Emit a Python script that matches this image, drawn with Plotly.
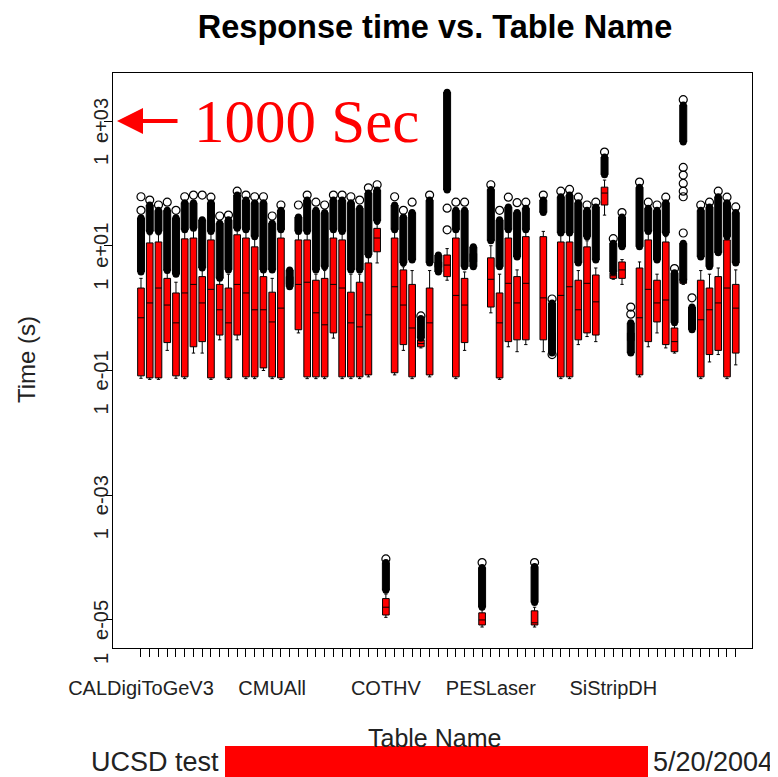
import plotly.graph_objects as go
import math

# ---------------- data (seconds) ----------------
positions = list(range(1, 70))
table_labels = [""] * 69
table_labels[0] = "CALDigiToGeV3"
table_labels[15] = "CMUAll"
table_labels[28] = "COTHV"
table_labels[40] = "PESLaser"
table_labels[54] = "SiStripDH"

q1_s = [0.082, 0.076, 0.076, 0.28, 0.082, 0.079, 0.24, 0.29, 0.076, 0.37,
        0.076, 0.37, 0.079, 0.079, 0.11, 0.079, 0.076, 2.4, 0.45, 0.079,
        0.079, 0.079, 0.40, 0.079, 0.079, 0.079, 0.085, 8.0, 1.2e-5, 0.092,
        0.26, 0.079, 0.24, 0.085, 4.5, 3.2, 0.079, 0.28, 5.5, 8.3e-6,
        1.04, 0.076, 0.29, 0.31, 0.31, 8.3e-6, 0.31, 0.30, 0.079, 0.079,
        0.31, 0.40, 0.37, 45, 3.0, 3.0, 0.30, 0.085, 0.29, 0.60,
        0.26, 0.20, 2.5, 0.55, 0.079, 0.18, 0.21, 0.079, 0.19]
median_s = [0.70, 1.21, 2.1, 1.12, 0.58, 1.75, 2.4, 1.21, 2.0, 0.94,
            0.58, 2.4, 1.75, 0.94, 0.94, 0.60, 1.0, 2.8, 2.4, 2.6,
            0.84, 0.54, 2.4, 2.1, 0.58, 0.50, 0.78, 13.3, 1.6e-5, 2.2,
            1.12, 0.48, 0.27, 0.58, 5.0, 4.9, 1.6, 1.12, 6.5, 1.0e-5,
            2.9, 0.58, 2.5, 1.21, 2.5, 9.0e-6, 1.46, 0.35, 1.6, 2.2,
            0.94, 2.5, 1.26, 70, 3.3, 4.1, 0.35, 0.70, 2.0, 1.21,
            1.35, 0.29, 2.7, 0.7, 0.65, 0.94, 1.21, 2.1, 1.0]
q3_s = [2.1, 11.1, 11.5, 3.0, 1.75, 12.9, 13.3, 3.2, 12.4, 2.4,
        2.1, 15, 13.3, 9.6, 3.2, 1.8, 13.3, 3.2, 12.4, 12.4,
        2.8, 3.0, 13.3, 12.4, 1.8, 2.6, 5.3, 19, 2.2e-5, 13.3,
        4.1, 2.4, 0.31, 2.1, 5.5, 7.1, 13.3, 3.0, 7.5, 1.3e-5,
        6.4, 1.75, 13.3, 3.2, 14, 1.4e-5, 14, 0.40, 11.5, 11.5,
        2.8, 9.6, 3.4, 87, 3.7, 5.5, 0.40, 4.4, 12.4, 2.8,
        11.5, 0.48, 2.9, 0.85, 2.8, 2.1, 3.2, 12.4, 2.4]
whisker_low_s = [0.075, 0.072, 0.072, 0.21, 0.075, 0.074, 0.19, 0.19, 0.072, 0.31,
                 0.072, 0.31, 0.074, 0.074, 0.10, 0.074, 0.072, 2.3, 0.40, 0.074,
                 0.074, 0.074, 0.33, 0.074, 0.074, 0.074, 0.079, 5.3, 1.1e-5, 0.085,
                 0.21, 0.074, 0.23, 0.079, 4.2, 2.8, 0.074, 0.21, 5.2, 7.7e-6,
                 0.84, 0.072, 0.24, 0.20, 0.26, 7.7e-6, 0.20, 0.28, 0.074, 0.074,
                 0.26, 0.35, 0.29, 31, 2.9, 2.4, 0.28, 0.079, 0.24, 0.40,
                 0.23, 0.19, 2.4, 0.5, 0.074, 0.137, 0.18, 0.074, 0.123]
whisker_high_s = [3.0, 15, 15, 3.7, 2.6, 17, 18, 4.1, 16, 2.8,
                  3.5, 18, 17, 13, 4.0, 3.0, 17, 3.5, 16, 16,
                  3.5, 4.0, 17, 16, 3.5, 3.5, 6.5, 22, 2.6e-5, 17,
                  4.6, 4.0, 0.31, 4.0, 6.0, 9.0, 17, 3.8, 8.0, 1.5e-5,
                  10, 3.5, 17, 4.1, 17, 1.6e-5, 17, 0.45, 15, 15,
                  4.0, 12, 4.4, 113, 3.8, 6.0, 0.45, 5.5, 16, 3.5,
                  14, 0.55, 3.0, 0.9, 4.0, 3.5, 4.4, 15, 4.1]

# dense runs of outliers (overlapping circles that print as black bands)
cluster_pos = list(range(1, 70)) + [63]
cluster_low_s = [3.8, 17, 17, 4.0, 3.5, 18, 19, 4.4, 17, 3.0,
                 4.1, 19, 18, 14, 4.1, 4.1, 18, 2.2, 17, 17,
                 4.1, 4.6, 18, 17, 4.1, 4.1, 7.1, 25, 3.0e-5, 18,
                 5.3, 5.9, 0.33, 5.3, 3.8, 78, 18, 4.6, 4.6, 1.6e-5,
                 12, 4.6, 18, 6.6, 18, 1.9e-5, 34, 0.19, 16, 16,
                 5.3, 14, 5.9, 137, 3.8, 9.6, 0.19, 9.6, 17, 5.9,
                 16, 0.58, 2.8, 0.45, 6.6, 4.6, 7.7, 14, 5.3, 460]
cluster_high_s = [28, 45, 37, 37, 28, 49, 49, 26, 49, 23,
                  26, 65, 54, 49, 49, 23, 37, 4.1, 29, 54,
                  37, 34, 54, 54, 49, 40, 70, 78, 8.3e-5, 45,
                  29, 34, 0.68, 54, 7.1, 2900, 37, 37, 9.6, 6.9e-5,
                  80, 26, 42, 34, 40, 7.2e-5, 54, 1.21, 61, 65,
                  49, 37, 42, 265, 11, 29, 0.58, 87, 40, 37,
                  49, 3.7, 11, 1.04, 37, 42, 61, 49, 34, 1800]

# isolated outliers
outlier_pos = [1, 1, 2, 3, 4, 5, 6, 7, 8, 9, 10, 11, 12, 13, 14, 15, 16, 17,
               19, 20, 21, 22, 23, 24, 25, 26, 27, 28, 29, 30, 31, 32, 33, 34,
               36, 36, 37, 38, 40, 41, 42, 43, 44, 45, 46, 47, 48, 48, 49, 50,
               51, 52, 53, 54, 55, 56, 57, 57, 58, 59, 60, 61, 62,
               63, 63, 63, 63, 63, 63, 63, 64, 65, 66, 67, 68, 69]
outlier_s = [61, 37, 54, 45, 50, 37, 61, 65, 65, 60, 30, 31, 75, 65, 61, 61, 30, 45,
             45, 65, 50, 45, 65, 65, 61, 54, 85, 95, 9.5e-5, 61, 37, 50, 0.75, 65,
             18, 40, 50, 50, 8.3e-5, 95, 37, 60, 49, 50, 8.3e-5, 65, 1.4, 0.18, 75, 80,
             60, 45, 50, 318, 13, 34, 0.8, 1.04, 105, 50, 45, 60, 4.3,
             2200, 180, 136, 100, 75, 61, 16, 1.46, 45, 50, 75, 60, 42]

y_tick_vals = [1000, 10, 0.1, 0.001, 1e-5]
y_tick_text = ["e+03", "e+01", "e-01", "e-03", "e-05"]

# ---------------- figure ----------------
fig = go.Figure()

fig.add_trace(go.Box(
    x=positions, q1=q1_s, median=median_s, q3=q3_s,
    lowerfence=whisker_low_s, upperfence=whisker_high_s,
    fillcolor="#ff0000", line=dict(color="black", width=1),
    width=0.76, whiskerwidth=0.5, boxpoints=False, hoverinfo="skip",
    showlegend=False))

fig.add_trace(go.Box(
    x=cluster_pos, q1=cluster_low_s, median=cluster_low_s, q3=cluster_high_s,
    lowerfence=cluster_low_s, upperfence=cluster_high_s,
    fillcolor="black", line=dict(color="black", width=1),
    width=0.8, whiskerwidth=0, boxpoints=False, hoverinfo="skip",
    showlegend=False))

fig.add_trace(go.Scatter(
    x=cluster_pos + cluster_pos, y=cluster_low_s + cluster_high_s,
    mode="markers", marker=dict(symbol="circle", size=7, color="black"),
    hoverinfo="skip", showlegend=False))

fig.add_trace(go.Scatter(
    x=outlier_pos, y=outlier_s, mode="markers",
    marker=dict(symbol="circle-open", size=8, color="black", line=dict(width=1.2)),
    hoverinfo="skip", showlegend=False))

# page body adds an 8px offset; lay everything out in screenshot pixels
OFF = 8
W, H = 778 - OFF, 777 - OFF
L, T = 113 - OFF, 73 - OFF
R = W - (752 - OFF)
B = H - (648 - OFF)
pw, ph = W - L - R, H - T - B

def px_x(p):
    return (p - OFF - L) / pw

def px_y(p):
    return (H - B - (p - OFF)) / ph

FONT = "Liberation Sans, Arial"
annotations = []
for v, t in zip(y_tick_vals, y_tick_text):
    annotations.append(dict(x=px_x(101), y=math.log10(v), xref="paper", yref="y",
                            xanchor="center", yanchor="middle",
                            text=t, textangle=-90, showarrow=False,
                            font=dict(size=20, color="#222", family=FONT)))
    annotations.append(dict(x=px_x(101), y=math.log10(v), xref="paper", yref="y",
                            xanchor="center", yanchor="middle",
                            yshift=-39, text="1", textangle=-90, showarrow=False,
                            font=dict(size=20, color="#222", family=FONT)))

annotations += [
    dict(x=px_x(26), y=px_y(360), xref="paper", yref="paper", text="Time (s)",
         xanchor="center", yanchor="middle", textangle=-90, showarrow=False,
         font=dict(size=24, color="#222", family=FONT)),
    dict(x=px_x(434), y=px_y(738), xref="paper", yref="paper", text="Table Name",
         xanchor="center", yanchor="middle", showarrow=False,
         font=dict(size=25, color="#222", family=FONT)),
    dict(x=px_x(221), y=px_y(762), xref="paper", yref="paper", text="UCSD test",
         xanchor="right", yanchor="middle", showarrow=False,
         font=dict(size=27, color="#222", family=FONT)),
    dict(x=px_x(651), y=px_y(762), xref="paper", yref="paper", text="5/20/2004",
         xanchor="left", yanchor="middle", showarrow=False,
         font=dict(size=27, color="#222", family=FONT)),
    dict(x=px_x(117), y=3, xref="paper", yref="y", text="", showarrow=True,
         ax=62, ay=0, arrowhead=2, arrowsize=1.3, arrowwidth=4, arrowcolor="#ff0000",
         standoff=0),
    dict(x=px_x(306), y=3, xref="paper", yref="y", text="1000 Sec", showarrow=False,
         xanchor="center", yanchor="middle",
         font=dict(size=61, color="#ff0000", family="Liberation Serif, Times New Roman")),
]

fig.add_shape(type="rect", xref="paper", yref="paper",
              x0=px_x(225), x1=px_x(648), y0=px_y(746), y1=px_y(790),
              fillcolor="#ff0000", line=dict(width=0), layer="above")

fig.update_layout(
    width=W, height=H,
    margin=dict(l=L, r=R, t=T, b=B),
    paper_bgcolor="white", plot_bgcolor="white",
    title=dict(text="<b>Response time vs. Table Name</b>", x=(435 - OFF) / W,
               xanchor="center", y=1 - (27 - OFF) / H, yanchor="middle",
               font=dict(size=32.5, color="black", family=FONT)),
    annotations=annotations,
    showlegend=False,
)
fig.update_xaxes(range=[-2.2, 70.86], tickvals=positions, ticktext=table_labels,
                 ticks="outside", ticklen=8, tickcolor="black", tickwidth=1,
                 ticklabelstandoff=14,
                 showline=True, linecolor="black", linewidth=1, mirror=True,
                 showgrid=False, zeroline=False, tickangle=0,
                 tickfont=dict(size=20, color="#222", family=FONT))
fig.update_yaxes(type="log", range=[-5.45, 3.77], tickvals=y_tick_vals,
                 showticklabels=False, ticks="outside", ticklen=8, tickcolor="black",
                 showline=True, linecolor="black", linewidth=1, mirror=True,
                 showgrid=False, zeroline=False)

fig.write_html("out.html")
